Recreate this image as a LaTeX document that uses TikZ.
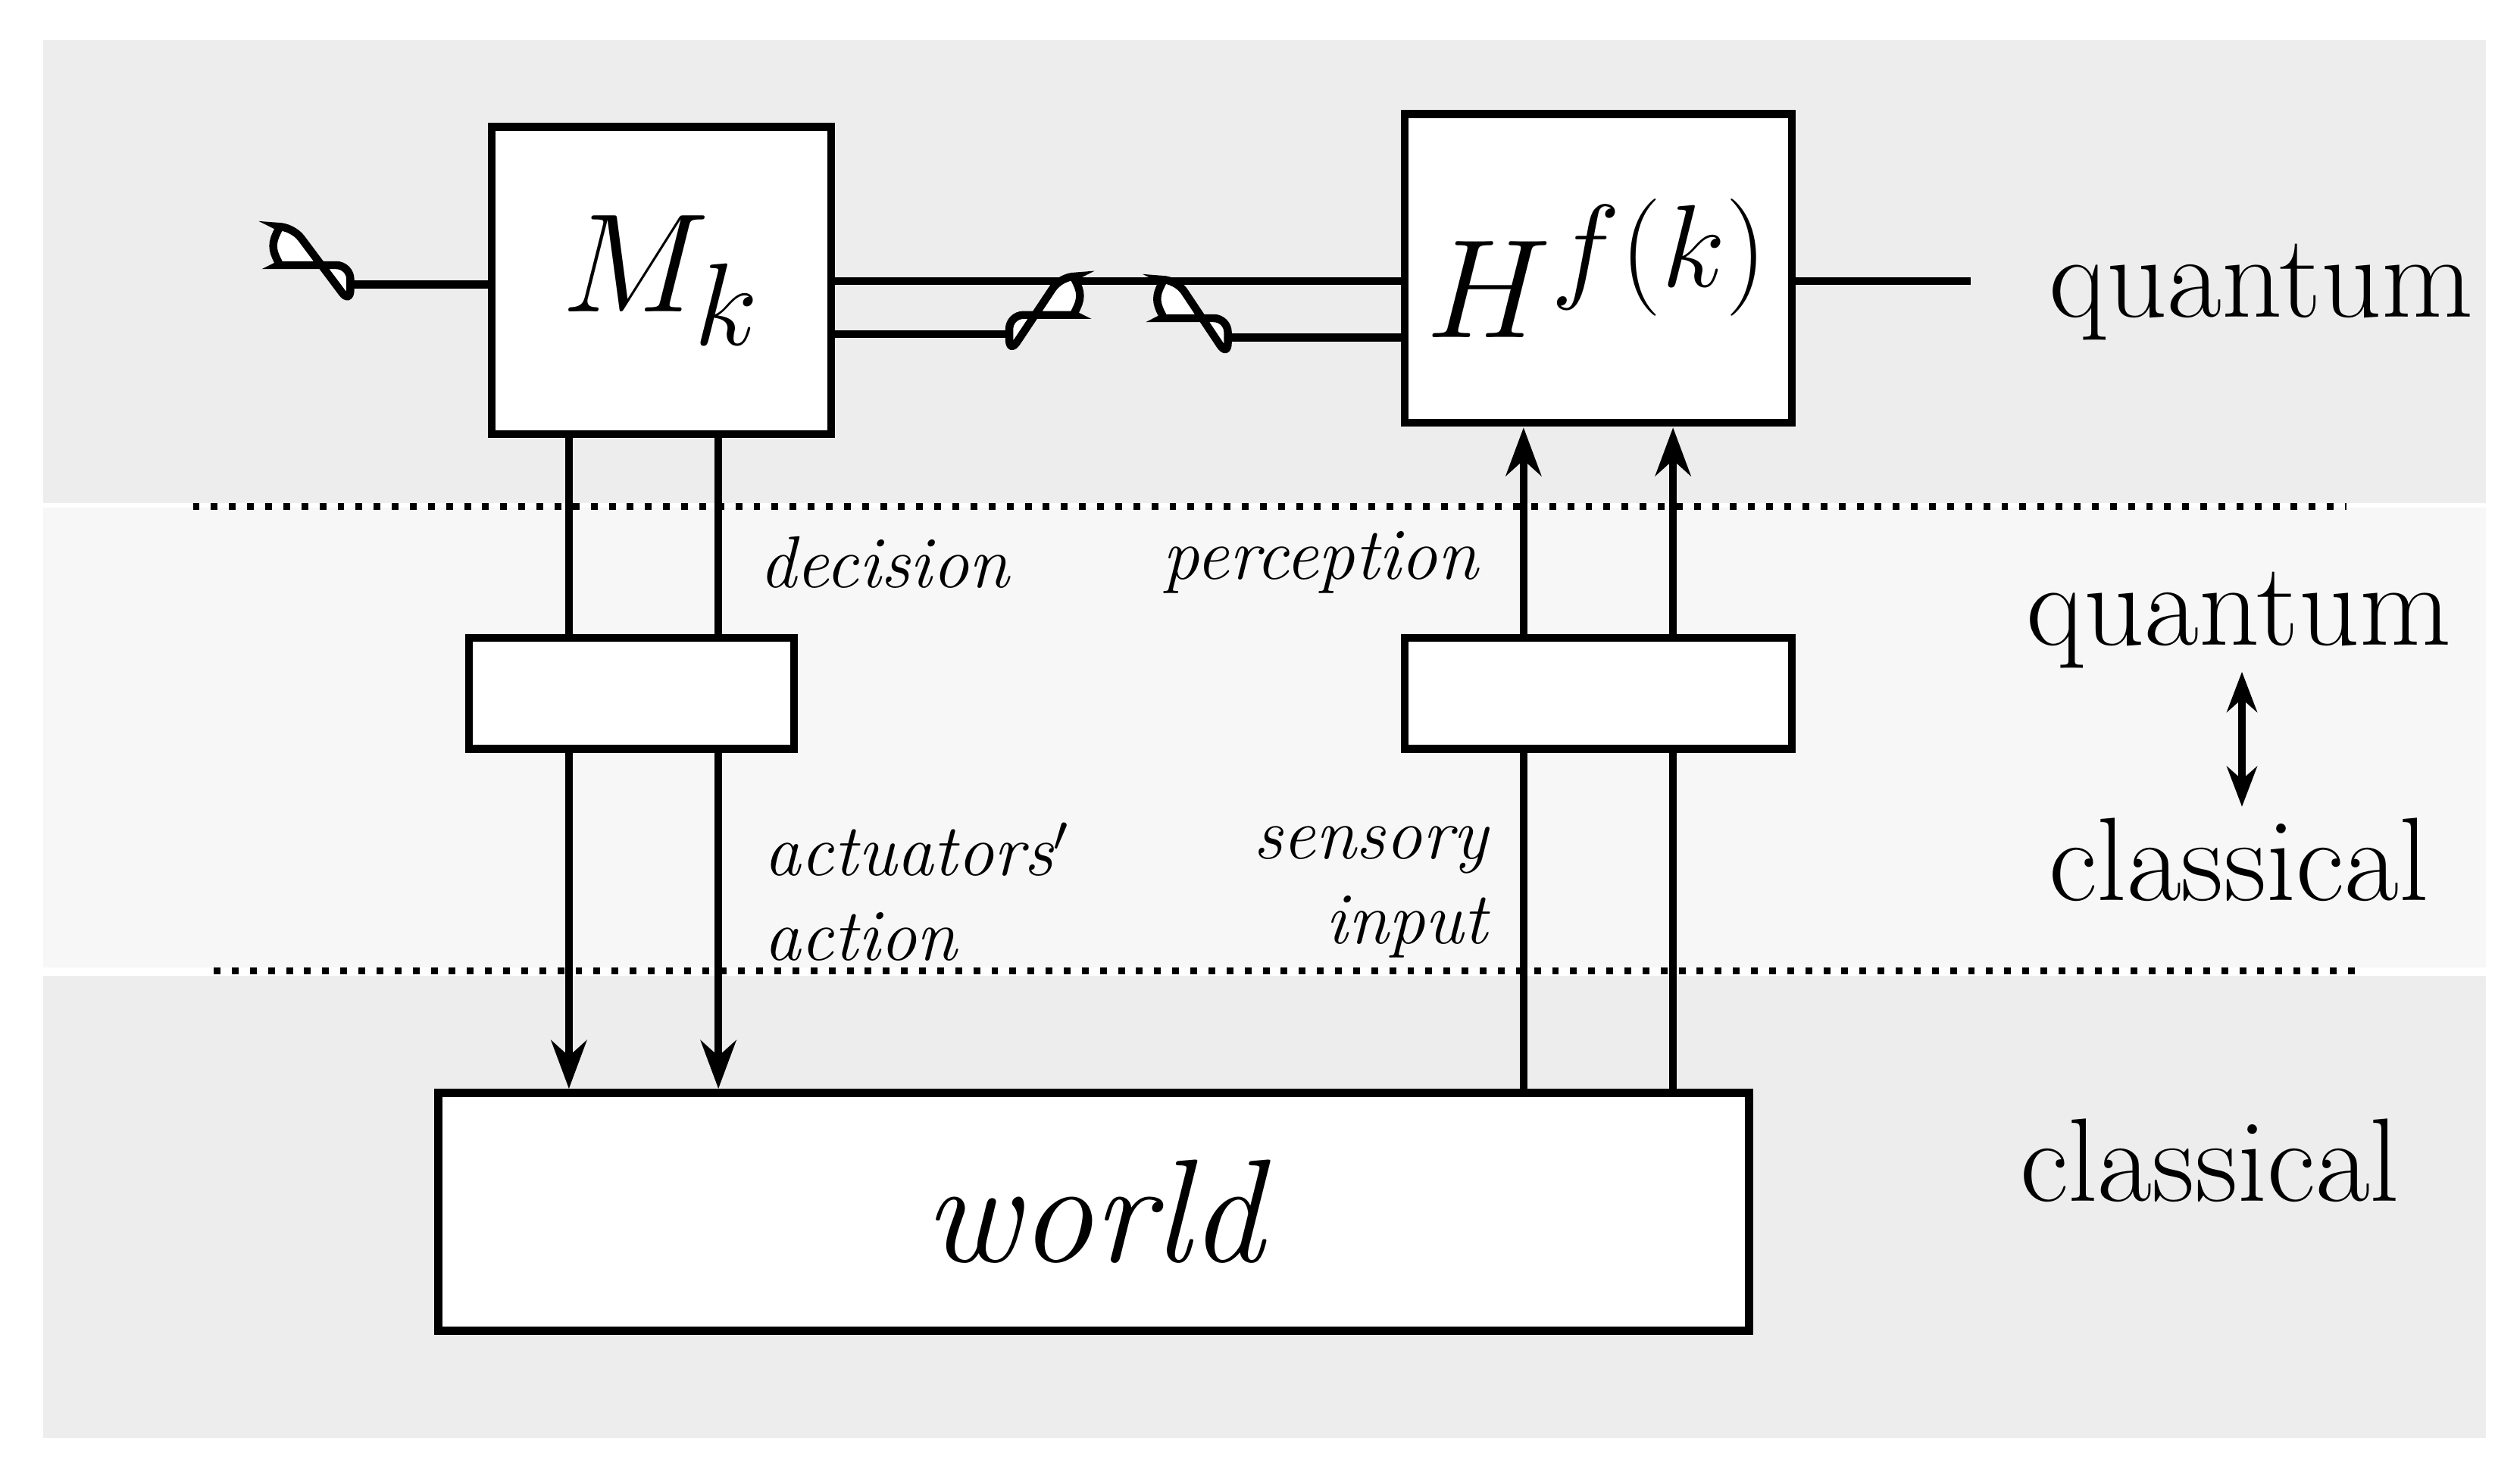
\documentclass[tikz,border=0pt]{standalone}
\usepackage{amsmath}
\usetikzlibrary{arrows.meta, calc}
\definecolor{bandA}{HTML}{EDEDED}
\definecolor{bandB}{HTML}{F7F7F7}
\begin{document}
\begin{tikzpicture}[
    x=0.01cm, y=-0.01cm,
    box/.style={draw, line width=1.4pt, fill=white, inner sep=0pt},
    wire/.style={line width=1.4pt},
    arrow/.style={line width=1.4pt, -{Stealth[length=3mm, width=2.2mm]}},
    lab/.style={font=\fontsize{13}{15}\selectfont\itshape},
    side/.style={font=\fontsize{21}{24}\selectfont},
    meter/.style={line width=1.4pt, fill=white, rounded corners=2.5pt}
]
\useasboundingbox (0,0) rectangle (1568,914);
% bands
\fill[bandA] (27,25) rectangle (1547,313);
\fill[bandB] (27,316) rectangle (1547,602);
\fill[bandA] (27,607) rectangle (1547,895);
\draw[line width=1.2pt, dotted] (120,315) -- (1460,315);
\draw[line width=1.2pt, dotted] (133,604) -- (1468,604);

% boxes
\node[box, minimum width=2.11cm, minimum height=1.91cm] (M) at (411.5,174.5)
    {\fontsize{30}{34}\selectfont $M_k$};
\node[box, minimum width=2.41cm, minimum height=1.92cm] (H) at (994.5,167)
    {\fontsize{30}{34}\selectfont $H^{f(k)}$};
\node[box, minimum width=2.02cm, minimum height=0.69cm] (L) at (393,431.5) {};
\node[box, minimum width=2.41cm, minimum height=0.69cm] (R) at (994.5,431.5) {};
\node[box, minimum width=8.15cm, minimum height=1.48cm] (W) at (680.5,754)
    {\fontsize{26}{30}\selectfont\itshape world};

% quantum wires and meters
\coordinate (m1) at (218,177);
\coordinate (m2) at (628,208);
\coordinate (m3) at (764,210);
\coordinate (out) at (1226,175);
\draw[wire] (m1) -- (M.west |- m1);
\draw[wire] (M.east |- 0,175) -- (H.west |- 0,175);
\draw[wire] (M.east |- m2) -- (m2);
\draw[wire] (m3) -- (H.west |- m3);
\draw[wire] (H.east |- out) -- (out);
\draw[meter] (218,165) -- (182,165) arc[start angle=90, end angle=270, radius=12] -- (218,189) -- cycle;
\draw[meter] (628,196) -- (660,196) arc[start angle=90, end angle=-90, radius=12] -- (628,220) -- cycle;
\draw[meter] (764,198) -- (732,198) arc[start angle=90, end angle=270, radius=12] -- (764,222) -- cycle;

% classical links
\foreach \x in {354,447} {
  \draw[wire] (\x,270) -- (L.north -| \x,0);
  \draw[arrow] (L.south -| \x,0) -- (W.north -| \x,0);
}
\foreach \x in {948,1041} {
  \draw[wire] (W.north -| \x,0) -- (R.south -| \x,0);
  \draw[arrow] (R.north -| \x,0) -- (\x,266);
}

% labels
\node[lab, anchor=west] at (460,350) {decision};
\node[lab, anchor=east] at (932,350) {perception};
\node[lab, anchor=west, align=left] at (463,555) {actuators$'$\\action};
\node[lab, anchor=east, align=right] at (938,555) {sensory\\input};

\node[side] at (1407,182) {quantum};
\node[side] (qc) at (1393,386) {quantum};
\node[side] (cq) at (1393,535) {classical};
\draw[line width=1.4pt, {Stealth[length=2.5mm]}-{Stealth[length=2.5mm]}] (1395,418) -- (1395,502);
\node[side] at (1375,722) {classical};
\end{tikzpicture}
\end{document}
